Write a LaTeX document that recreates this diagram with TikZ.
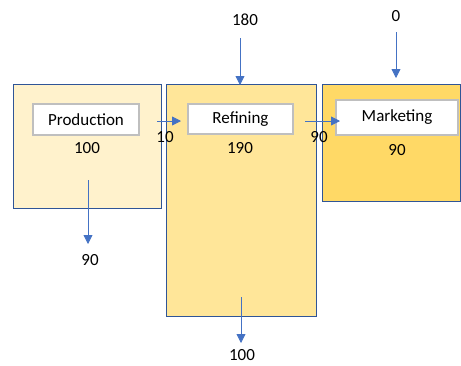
\documentclass[tikz,border=0pt]{standalone}
\usepackage{fontspec}
\setmainfont{Carlito}
\usetikzlibrary{arrows.meta}
\definecolor{bord}{HTML}{2F5597}
\definecolor{arr}{HTML}{4472C4}
\definecolor{fillA}{HTML}{FFF2CC}
\definecolor{fillB}{HTML}{FFE699}
\definecolor{fillC}{HTML}{FFD966}
\definecolor{grayb}{HTML}{BFBFBF}
\begin{document}
\begin{tikzpicture}[x=1pt,y=-1pt,
  unitbox/.style={draw=bord,line width=1.2pt,inner sep=0pt,anchor=north west},
  namebox/.style={draw=grayb,fill=white,line width=1.3pt,inner sep=0pt,font=\fontsize{17}{19}\selectfont},
  num/.style={inner sep=0pt,font=\fontsize{17}{19}\selectfont},
  flow/.style={draw=arr,line width=0.8pt,-{Triangle[length=9pt,width=9pt]}}]
\useasboundingbox (0,0) rectangle (461,365);
% outer boxes
\node[unitbox,fill=fillA,minimum width=148pt,minimum height=124pt] (prod) at (13,84) {};
\node[unitbox,fill=fillB,minimum width=150pt,minimum height=232pt] (ref) at (166,84) {};
\node[unitbox,fill=fillC,minimum width=138pt,minimum height=117pt] (mkt) at (322,84) {};
% name boxes
\node[namebox,minimum width=106pt,minimum height=31pt] (prodname) at (86,119.5) {Production};
\node[namebox,minimum width=105pt,minimum height=30pt] (refname) at (240.5,119) {Refining};
\node[namebox,minimum width=122pt,minimum height=35pt] (mktname) at (397,117.5) {Marketing};
% numbers
\node[num] (prodval) at (87,148) {100};
\node[num] (refval) at (240,148) {190};
\node[num] (mktval) at (397,150) {90};
\node[num] (f10) at (165,137) {10};
\node[num] (f90) at (319,137) {90};
\node[num] (in180) at (245,20) {180};
\node[num] (in0) at (396,16) {0};
\node[num] (out90) at (90,260) {90};
\node[num] (out100) at (242,355.5) {100};
% connector end points
\coordinate (a10s) at (157,121);
\coordinate (a10e) at (181,121);
\coordinate (a90s) at (305,121);
\coordinate (a90e) at (340,121);
\coordinate (a180s) at (240,38);
\coordinate (a180e) at (240,85);
\coordinate (a0s) at (396,32);
\coordinate (a0e) at (396,78);
\coordinate (ap90s) at (88,180);
\coordinate (ap90e) at (88,244);
\coordinate (ar100s) at (241,297);
\coordinate (ar100e) at (241,343);
% connectors
\draw[flow] (a10s) -- (a10e);
\draw[flow] (a90s) -- (a90e);
\draw[flow] (a180s) -- (a180e);
\draw[flow] (a0s) -- (a0e);
\draw[flow] (ap90s) -- (ap90e);
\draw[flow] (ar100s) -- (ar100e);
\end{tikzpicture}
\end{document}
